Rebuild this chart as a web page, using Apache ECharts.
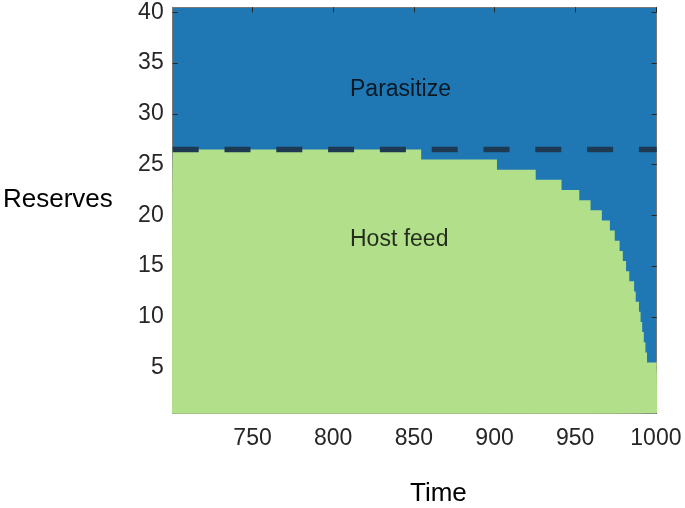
<!DOCTYPE html>
<html>
<head>
<meta charset="utf-8">
<script src="https://cdn.jsdelivr.net/npm/echarts@6/dist/echarts.min.js"></script>
<style>html,body{margin:0;padding:0;background:#fff}#c{width:685px;height:508px}</style>
</head>
<body>
<div id="c"></div>
<script>
// Reserve levels (rows of the decision grid)
const reserveLevels = [1,2,3,4,5,6,7,8,9,10,11,12,13,14,15,16,17,18,19,20,21,22,23,24,25,26,27,28,29,30,31,32,33,34,35,36,37,38,39,40];
// Last time step at which "Host feed" is optimal for each reserve level (700 = never)
const lastHostFeedTime = [1000,1000,1000,1000,1000,994,993,992,991,990,989,987,986,983,981,979,977,974,971,966,959,952,941,925,901,854,700,700,700,700,700,700,700,700,700,700,700,700,700,700];
// Time steps
const timeStart = 701, timeEnd = 1000;
// Dashed reference threshold in reserves
const thresholdReserve = 26.5;
// Tick labels
const xTicks = [750, 800, 850, 900, 950, 1000];
const yTicks = [5, 10, 15, 20, 25, 30, 35, 40];
// Region labels
const regionLabels = [
  {name: 'Parasitize', time: 810.4, reserve: 32.35},
  {name: 'Host feed', time: 810.4, reserve: 17.6}
];

const FONT = "'Liberation Sans', Arial, Helvetica, sans-serif";
const BLUE = '#1f78b4', GREEN = '#b2df8a';

const xMin = timeStart - 0.5, xMax = timeEnd + 0.5;
const yMin = reserveLevels[0] - 0.5, yMax = reserveLevels[reserveLevels.length - 1] + 0.5;

// one item per reserve level: [reserve, lastHostFeedTime]
const hostRows = reserveLevels.map((r, i) => [r, lastHostFeedTime[i]]).filter(d => d[1] >= timeStart);

const axisLine = {show: true, lineStyle: {color: '#7a7a7a', width: 1}};
const tick = {show: true, inside: true, length: 5, lineStyle: {color: '#262626', width: 1}};

const chart = echarts.init(document.getElementById('c'), null, {renderer: 'canvas'});
chart.setOption({
  animation: false,
  grid: {left: 172.7, right: 28.3, top: 7.3, bottom: 94.7, show: true, backgroundColor: BLUE, borderWidth: 0},
  xAxis: [
    {type: 'value', min: xMin, max: xMax, position: 'bottom',
     axisLine: axisLine, axisTick: Object.assign({customValues: xTicks}, tick),
     axisLabel: {customValues: xTicks, formatter: v => String(v), fontFamily: FONT, fontSize: 23, color: '#262626', margin: 14},
     splitLine: {show: false}},
    {type: 'value', min: xMin, max: xMax, position: 'top',
     axisLine: axisLine, axisTick: Object.assign({customValues: xTicks}, tick),
     axisLabel: {show: false}, splitLine: {show: false}}
  ],
  yAxis: [
    {type: 'value', min: yMin, max: yMax, position: 'left',
     axisLine: axisLine, axisTick: Object.assign({customValues: yTicks}, tick),
     axisLabel: {customValues: yTicks, formatter: v => String(v), fontFamily: FONT, fontSize: 23, color: '#262626', margin: 9},
     splitLine: {show: false}},
    {type: 'value', min: yMin, max: yMax, position: 'right',
     axisLine: axisLine, axisTick: Object.assign({customValues: yTicks}, tick),
     axisLabel: {show: false}, splitLine: {show: false}}
  ],
  graphic: [
    {type: 'text', left: 3, top: 187, style: {text: 'Reserves', font: "26px " + FONT, fill: '#000'}},
    {type: 'text', left: 410, top: 481, style: {text: 'Time', font: "26px " + FONT, fill: '#000'}}
  ],
  series: [
    {type: 'custom', data: hostRows, silent: true, z: 1, clip: true,
     renderItem: (params, api) => {
       const r = api.value(0), last = api.value(1);
       const p0 = api.coord([xMin, yMin]);
       const p1 = api.coord([last + 0.5, r + 0.5]);
       return {type: 'rect', shape: {x: p0[0], y: p1[1], width: p1[0] - p0[0], height: p0[1] - p1[1]},
               style: {fill: GREEN}};
     }},
    {type: 'line', data: [[xMin, thresholdReserve], [xMax, thresholdReserve]], symbol: 'none', silent: true, z: 3,
     lineStyle: {color: '#1d3a52', width: 5.5, type: [26, 25.8], cap: 'butt'}},
    {type: 'scatter', symbolSize: 0, silent: true, z: 4,
     data: regionLabels.map(d => ({value: [d.time, d.reserve], name: d.name})),
     label: {show: true, position: 'right', distance: 0, formatter: p => p.name,
             fontFamily: FONT, fontSize: 23, color: '#000'}}
  ]
});
</script>
</body>
</html>
